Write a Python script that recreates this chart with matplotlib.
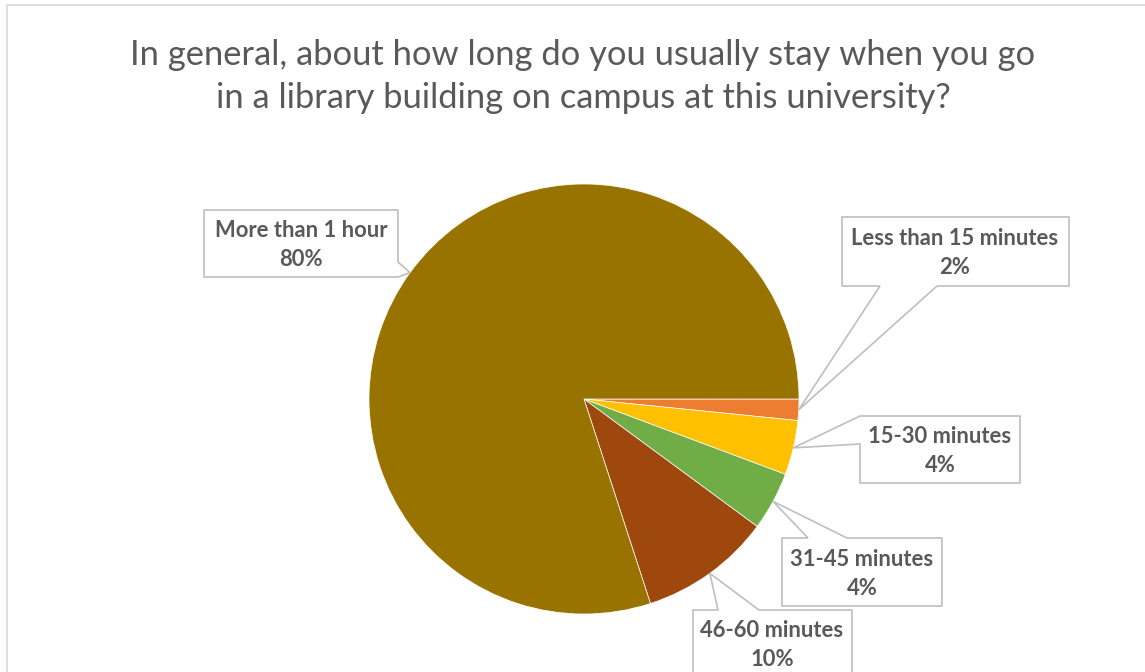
import numpy as np
import matplotlib
matplotlib.use("Agg")
import matplotlib.pyplot as plt
from matplotlib.patches import Polygon, Rectangle

# ---- data ----
categories = ["Less than 15 minutes", "15-30 minutes", "31-45 minutes",
              "46-60 minutes", "More than 1 hour"]
shares = [1.6, 4.1, 4.4, 9.9, 80.0]   # percent
colors = ["#ED7D31", "#FFC000", "#70AD47", "#9E480E", "#997300"]
title_lines = ["In general, about how long do you usually stay when you go",
               "in a library building on campus at this university?"]

W, H = 1145, 672
fig = plt.figure(figsize=(W / 100, H / 100), dpi=100)
ax = fig.add_axes([0, 0, 1, 1])

cx, cy, R = 584, 399, 215
wedges, _ = ax.pie(shares, colors=colors, startangle=0, counterclock=True,
                   center=(cx, cy), radius=R,
                   wedgeprops=dict(edgecolor="white", linewidth=0.5))
ax.set_aspect("auto")
ax.set_xlim(0, W)
ax.set_ylim(H, 0)
ax.axis("off")

# chart border (light grey, cropped at right/bottom)
fig.add_artist(Rectangle((7 / W, -0.1), 1.2, 1 - 5 / H + 0.1, transform=fig.transFigure,
                         fill=False, edgecolor="#D9D9D9", linewidth=1.2))

renderer = fig.canvas.get_renderer()
TXT = "#595959"


def fit(text_obj, target_w):
    fs = text_obj.get_fontsize()
    w = text_obj.get_window_extent(renderer).width
    text_obj.set_fontsize(fs * target_w / w)


# title
t1 = ax.text(583, 65, title_lines[0], ha="center", va="baseline",
             fontsize=22, color=TXT, family="Lato")
fit(t1, 900)
t2 = ax.text(583, 108, title_lines[1], ha="center", va="baseline",
             fontsize=t1.get_fontsize(), color=TXT, family="Lato")

# label font size fit
probe = ax.text(0, 0, categories[0], fontsize=14, fontweight="bold", family="Lato")
fit(probe, 208)
LFS = probe.get_fontsize()
probe.remove()


def tip_point(w, frac=1.0):
    mid = np.deg2rad((w.theta1 + w.theta2) / 2)
    return cx + R * frac * np.cos(mid), cy + R * frac * np.sin(mid)


def callout(box, edge, base, tip):
    x0, y0, x1, y1 = box
    if edge == "bottom":
        verts = [(x0, y0), (x1, y0), (x1, y1), (base[1], y1), tip, (base[0], y1), (x0, y1)]
    elif edge == "top":
        verts = [(x0, y0), (base[0], y0), tip, (base[1], y0), (x1, y0), (x1, y1), (x0, y1)]
    elif edge == "left":
        verts = [(x0, y0), (x1, y0), (x1, y1), (x0, y1), (x0, base[1]), tip, (x0, base[0])]
    else:  # right
        verts = [(x0, y0), (x1, y0), (x1, base[0]), tip, (x1, base[1]), (x1, y1), (x0, y1)]
    ax.add_patch(Polygon(verts, closed=True, facecolor="white", edgecolor="#BFBFBF",
                         linewidth=1.2, zorder=5, joinstyle="miter"))


# (box, edge, base range, text centre x, baseline y of line 1)
layout = [
    ((842, 217, 1069, 286), "bottom", (880, 937), 955, 245),
    ((860, 416, 1020, 483), "left", (416, 444), 940, 443),
    ((782, 538, 942, 606), "top", (808, 847), 862, 566),
    ((693, 610, 852, 700), "top", (718, 759), 772, 637),
    ((204, 210, 398, 277), "right", (262, 277), 301, 237),
]

for w, cat, val, (box, edge, base, tx, ty) in zip(wedges, categories, shares, layout):
    callout(box, edge, base, tip_point(w))
    ax.text(tx, ty, cat, ha="center", va="baseline", fontsize=LFS,
            fontweight="bold", color=TXT, family="Lato", zorder=6)
    ax.text(tx, ty + 29, f"{val:.0f}%", ha="center", va="baseline", fontsize=LFS,
            fontweight="bold", color=TXT, family="Lato", zorder=6)

fig.savefig("out.png", dpi=100, facecolor="white")
